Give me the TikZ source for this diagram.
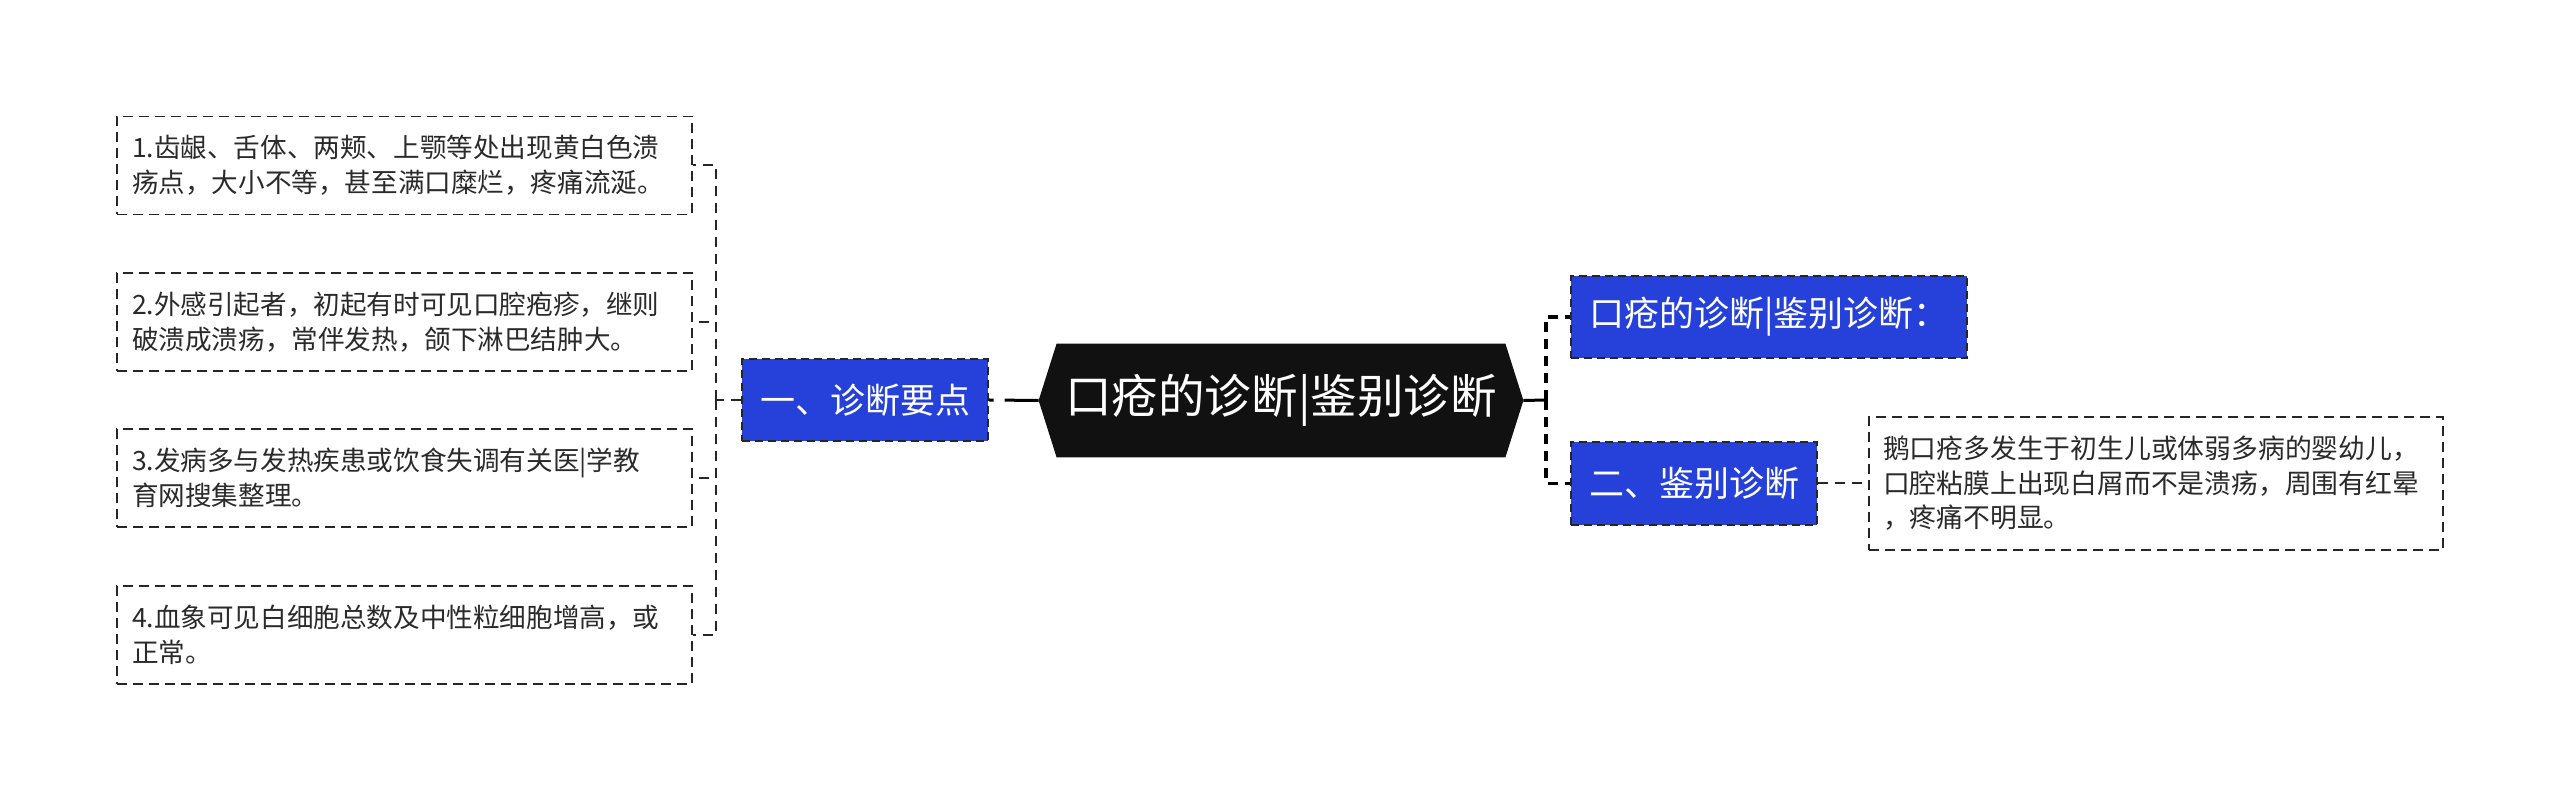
\documentclass[tikz,border=0pt]{standalone}
\usepackage{fontspec}
\setmainfont{Noto Sans CJK SC}
\usetikzlibrary{backgrounds}
\definecolor{bluefill}{HTML}{2541D9}
\definecolor{rootfill}{HTML}{111111}
\definecolor{txt}{HTML}{2A2A2A}
\begin{document}
\begin{tikzpicture}[x=0.5pt,y=-0.5pt,
  leafbox/.style={draw=black!85, line width=0.85pt, dash pattern=on 5pt off 3pt,
    text=txt, align=left, inner xsep=7.5pt, inner ysep=0pt, text width=272.5pt,
    minimum height=49pt, font=\fontsize{13.3pt}{17.5pt}\selectfont},
  bluebox/.style={fill=bluefill, draw=black!85, line width=1.2pt, dash pattern=on 4pt off 2.5pt,
    text=white, inner sep=0pt, minimum height=41pt, font=\fontsize{17.5pt}{21pt}\selectfont},
  rootbox/.style={inner sep=0pt, minimum width=224pt, minimum height=56.5pt,
    text=white, font=\fontsize{23.3pt}{27pt}\selectfont},
  thinconn/.style={draw=black!85, line width=1pt, dash pattern=on 5pt off 3.5pt},
  thickconn/.style={draw=black, line width=1.6pt, dash pattern=on 5pt off 3.5pt},
  solidconn/.style={draw=black, line width=1.5pt}
]
\path[use as bounding box] (0,0) rectangle (2560,801);

% left leaves
\node[leafbox] (L1) at (404.5,165.5) {1.齿龈、舌体、两颊、上颚等处出现黄白色溃\\疡点，大小不等，甚至满口糜烂，疼痛流涎。};
\node[leafbox] (L2) at (404.5,322) {2.外感引起者，初起有时可见口腔疱疹，继则\\破溃成溃疡，常伴发热，颌下淋巴结肿大。};
\node[leafbox] (L3) at (404.5,478) {3.发病多与发热疾患或饮食失调有关医|学教\\育网搜集整理。};
\node[leafbox] (L4) at (404.5,635) {4.血象可见白细胞总数及中性粒细胞增高，或\\正常。};

% first-level
\node[bluebox, minimum width=123pt] (B1) at (865,400) {一、诊断要点};
\node[bluebox, minimum width=198pt] (R1) at (1769,317) {口疮的诊断|鉴别诊断：};
\node[bluebox, minimum width=123pt, minimum height=41.5pt] (R2) at (1694,483.5) {二、鉴别诊断};

% root
\node[rootbox] (root) at (1281,400.5) {口疮的诊断|鉴别诊断};
\begin{scope}[on background layer]
\fill[white] (0,0) rectangle (2560,801);
\fill[rootfill] (root.north west) -- (root.north east) -- ([xshift=9pt]root.east)
  -- (root.south east) -- (root.south west) -- ([xshift=-9pt]root.west) -- cycle;
\end{scope}
\coordinate (rootL) at ([xshift=-9pt]root.west);
\coordinate (rootR) at ([xshift=9pt]root.east);

% right leaf
\node[leafbox, text width=273pt, inner xsep=7pt, minimum height=66.5pt,
  font=\fontsize{13.4pt}{17.25pt}\selectfont] (T1) at (2156,483.5)
  {鹅口疮多发生于初生儿或体弱多病的婴幼儿，\\口腔粘膜上出现白屑而不是溃疡，周围有红晕\\，疼痛不明显。};

% connectors left
\coordinate (lb) at (716,400);
\draw[solidconn, dash pattern=on 17pt off 5.5pt on 2.5pt off 10pt] (rootL) -- (B1.east);
\draw[thinconn] (B1.west) -- (lb);
\draw[thinconn] (lb) |- (L1.east);
\draw[thinconn] (lb) |- (L2.east);
\draw[thinconn] (lb) |- (L3.east);
\draw[thinconn] (lb) |- (L4.east);

% connectors right
\coordinate (rb) at (1546,400);
\draw[solidconn] (rootR) -- (rb);
\draw[thickconn] (rb) |- (R1.west);
\draw[thickconn] (rb) |- (R2.west);
\draw[thinconn, line width=1pt] (R2.east) -- (T1.west);
\end{tikzpicture}
\end{document}
